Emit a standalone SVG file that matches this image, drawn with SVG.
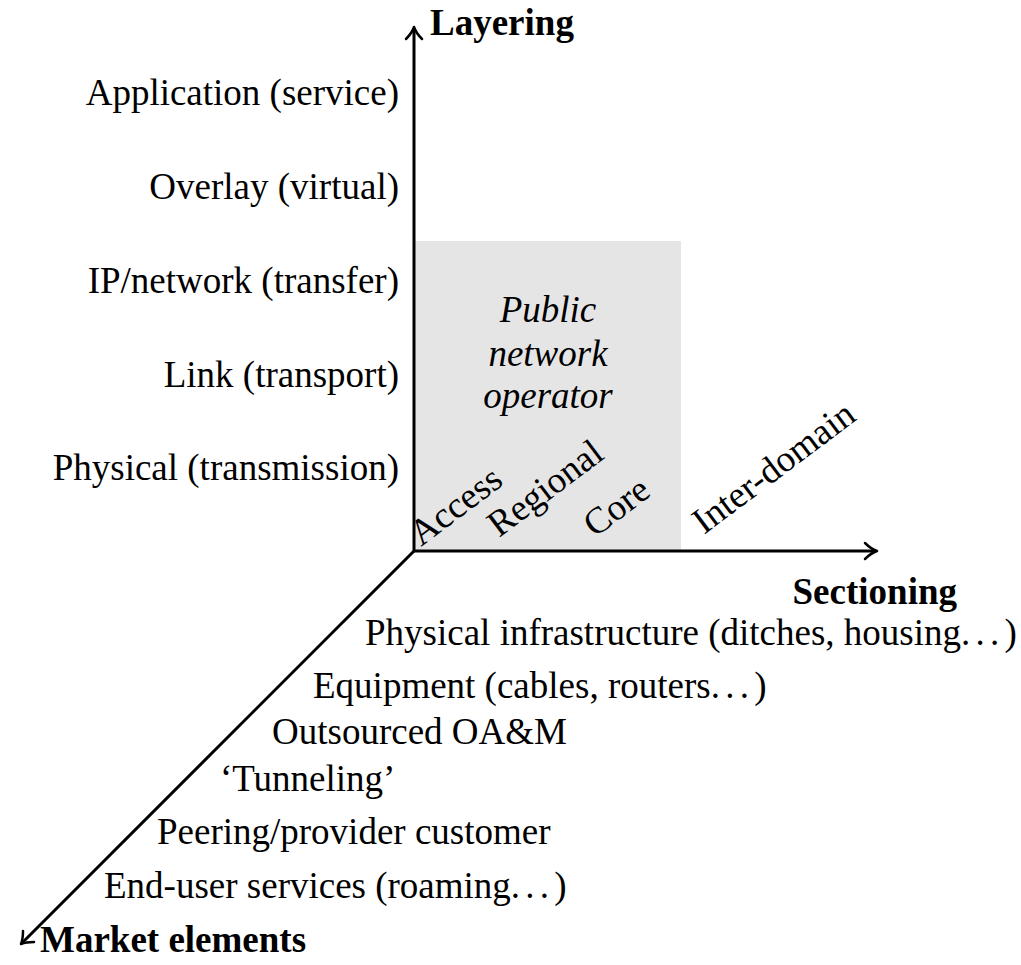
<svg xmlns="http://www.w3.org/2000/svg" width="1021" height="965" viewBox="0 0 1021 965">
<style>
text{font-family:"Liberation Serif","Times New Roman",serif;font-size:37px;fill:#000}
.b{font-weight:bold}
.i{font-style:italic}
.r{text-anchor:end}
.m{text-anchor:middle}
.d{word-spacing:-4px}
.ax{stroke:#000;stroke-width:3;fill:none}
.ah{stroke:#000;stroke-width:2.5;fill:none;stroke-linecap:round;stroke-linejoin:round}
</style>
<rect x="414" y="241" width="267" height="310" fill="#e5e5e5"/>
<g id="axes">
<path class="ax" d="M414 551 V28"/>
<path class="ah" d="M406 39 Q412 33 414 27 Q416 33 422 39"/>
<path class="ax" d="M414 551 H876"/>
<path class="ah" d="M865 543 Q871 549 877 551 Q871 553 865 559"/>
<path class="ax" d="M414 551 L22 943"/>
<path class="ah" d="M23 931 Q23 939 21 944 Q26 942 34 942"/>
</g>
<g id="layering">
<text class="b" x="430" y="35">Layering</text>
<text class="r" x="399" y="105">Application (service)</text>
<text class="r" x="399" y="199">Overlay (virtual)</text>
<text class="r" x="399" y="293">IP/network (transfer)</text>
<text class="r" x="399" y="387">Link (transport)</text>
<text class="r" x="399" y="480">Physical (transmission)</text>
</g>
<g id="operator">
<text class="i m" x="548" y="322">Public</text>
<text class="i m" x="548" y="366">network</text>
<text class="i m" x="548" y="408">operator</text>
</g>
<g id="sectioning">
<text class="b r" x="957" y="604">Sectioning</text>
<text transform="translate(421 547) rotate(-37)">Access</text>
<text transform="translate(499 538) rotate(-37)">Regional</text>
<text transform="translate(595 538) rotate(-37)">Core</text>
<text transform="translate(704 535) rotate(-37)">Inter-domain</text>
</g>
<g id="market">
<text x="365" y="645">Physical infrastructure (ditches, housing<tspan class="d">. . . )</tspan></text>
<text x="313" y="698">Equipment (cables, routers<tspan class="d">. . . )</tspan></text>
<text x="272" y="744">Outsourced OA&amp;M</text>
<text x="220" y="791">‘Tunneling’</text>
<text x="157" y="844">Peering/provider customer</text>
<text x="104" y="898">End-user services (roaming<tspan class="d">. . . )</tspan></text>
<text class="b" x="40" y="952">Market elements</text>
</g>
</svg>
